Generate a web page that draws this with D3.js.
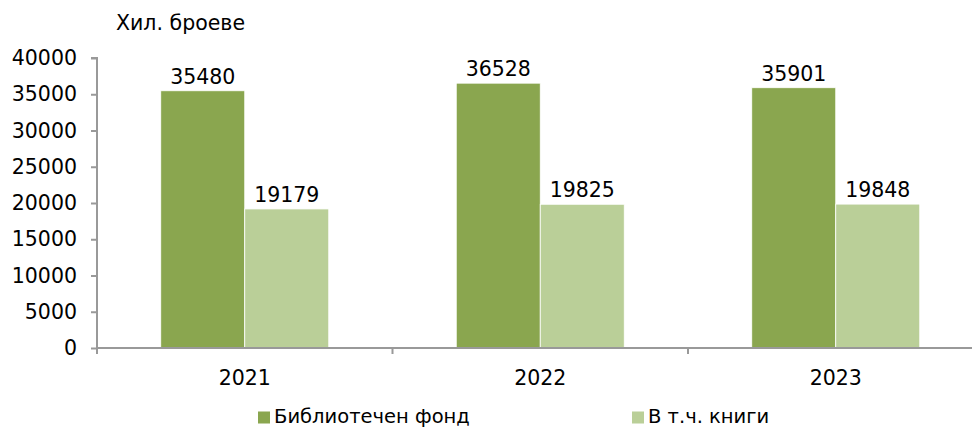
<!DOCTYPE html>
<html>
<head>
<meta charset="utf-8">
<script src="https://d3js.org/d3.v7.min.js"></script>
<style>
  * { margin: 0; padding: 0; }
  body { background: #fff; font-family: 'DejaVu Sans', Verdana, sans-serif; }
  svg text { fill: #000; }
</style>
</head>
<body>
<div id="chart"></div>
<script>
// data
const years = ["2021", "2022", "2023"];
const seriesNames = ["Библиотечен фонд", "В т.ч. книги"];
const fond = [35480, 36528, 35901];
const knigi = [19179, 19825, 19848];
const yTicks = [0, 5000, 10000, 15000, 20000, 25000, 30000, 35000, 40000];
const unitLabel = "Хил. броеве";

const colors = ["#8aa64f", "#bacf98"];
const w = 972, h = 427;
const mLeft = 97, mRight = 983.5, mTop = 58, mBottom = 348;
const fs = "20.5px";

const svg = d3.select("#chart").append("svg")
  .attr("width", w).attr("height", h);

const x = d3.scaleBand().domain(years).range([mLeft, mRight]);
const y = d3.scaleLinear().domain([0, 40000]).range([mBottom, mTop]);
const barW = 84;

const rows = years.map((yr, i) => ({ year: yr, vals: [fond[i], knigi[i]] }));

// bars
const g = svg.append("g");
rows.forEach(r => {
  const cx = x(r.year) + x.bandwidth() / 2;
  r.vals.forEach((v, j) => {
    const bx = cx - barW + j * barW;
    g.append("rect")
      .attr("x", bx).attr("y", y(v))
      .attr("width", barW).attr("height", y(0) - y(v))
      .attr("fill", colors[j])
      .attr("stroke", "#ffffff").attr("stroke-width", 0.8);
    g.append("text")
      .attr("x", bx + barW / 2).attr("y", y(v) - 7)
      .attr("text-anchor", "middle")
      .style("font-size", fs)
      .text(v);
  });
});

// y axis
const yAxis = d3.axisLeft(y).tickValues(yTicks).tickSize(6).tickPadding(14).tickFormat(d => d);
const ya = svg.append("g").attr("transform", `translate(${mLeft},0)`).call(yAxis);
ya.select(".domain").attr("stroke", "#999").attr("stroke-width", 2).attr("d", `M-6,${mTop}H0V${mBottom}`);
ya.selectAll(".tick line").attr("stroke", "#999").attr("stroke-width", 2);
ya.selectAll(".tick text").style("font-size", fs).style("font-family", "'DejaVu Sans', Verdana, sans-serif").attr("fill", "#000");

// x axis
const xa = svg.append("g").attr("transform", `translate(0,${mBottom})`);
xa.append("line").attr("x1", mLeft).attr("x2", mRight).attr("y1", 0).attr("y2", 0)
  .attr("stroke", "#999").attr("stroke-width", 2);
xa.selectAll(".ct").data(years.map(d => x(d)).concat([mRight])).enter().append("line")
  .attr("x1", d => d).attr("x2", d => d).attr("y1", 0).attr("y2", 6)
  .attr("stroke", "#999").attr("stroke-width", 2);
xa.selectAll(".lbl").data(years).enter().append("text")
  .attr("x", d => x(d) + x.bandwidth() / 2).attr("y", 37)
  .attr("text-anchor", "middle").style("font-size", fs)
  .text(d => d);

// unit label
svg.append("text").attr("x", 116).attr("y", 30).style("font-size", fs).text(unitLabel);

// legend
const legX = [258, 632];
seriesNames.forEach((n, j) => {
  svg.append("rect").attr("x", legX[j]).attr("y", 411.5).attr("width", 12).attr("height", 12).attr("fill", colors[j]);
  svg.append("text").attr("x", legX[j] + 16).attr("y", 423).style("font-size", "19.5px").text(n);
});
</script>
</body>
</html>
